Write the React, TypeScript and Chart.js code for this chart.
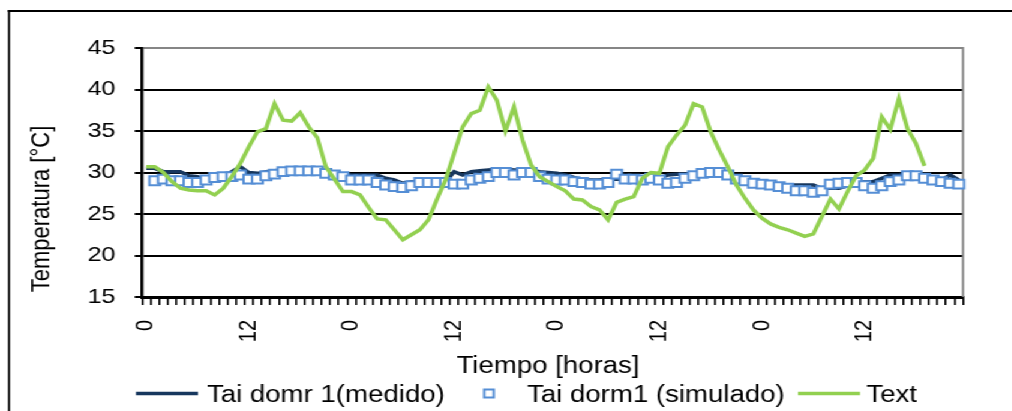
import React, { useEffect, useRef } from 'react';
import { Chart, registerables } from 'chart.js';

Chart.register(...registerables);

// Hours of the day, repeated for the four days of the record
const dayHours = [
  '0', '1', '2', '3', '4', '5', '6', '7', '8', '9', '10', '11',
  '12', '13', '14', '15', '16', '17', '18', '19', '20', '21', '22', '23',
];
const hours = [...dayHours, ...dayHours, ...dayHours, ...dayHours];
const shownHourLabels = ['0', '12'];

// Indoor air temperature, bedroom 1, measured [°C]
const taiMedido = [
  30.5, 30.5, 30.1, 30.1, 30.1, 29.6, 29.5, 29.1, 29.1, 29.6, 30.1, 30.7,
  30.0, 29.9, 30.1, 30.2, 30.3, 30.3, 30.3, 30.3, 30.3, 30.3, 30.0, 29.8,
  29.7, 29.7, 29.7, 29.7, 29.3, 29.1, 28.7, 28.9, 28.9, 28.9, 28.9, 28.9,
  30.1, 29.7, 30.1, 30.2, 30.3, 30.4, 30.4, 30.3, 30.3, 30.3, 30.1, 30.0,
  29.9, 29.7, 29.4, 29.1, 29.1, 29.1, 29.2, 29.2, 29.2, 29.3, 29.3, 29.3,
  29.3, 29.7, 29.8, 29.8, 29.9, 30.0, 30.2, 30.2, 29.8, 29.5, 29.2, 28.9,
  28.8, 28.7, 28.6, 28.5, 28.5, 28.5, 28.5, 28.1, 28.1, 28.1, 28.4, 28.8,
  28.9, 28.9, 29.3, 29.7, 29.7, 29.8, 29.7, 29.1, 29.1, 29.1, 29.7, 29.1,
];

// Indoor air temperature, bedroom 1, simulated [°C]
const taiSimulado = [
  null, 29.0, 29.2, 29.0, 29.0, 28.8, 28.8, 29.1, 29.4, 29.5, 29.5, 29.7,
  29.2, 29.2, 29.6, 29.8, 30.1, 30.2, 30.2, 30.2, 30.2, 29.9, 29.7, 29.5,
  29.1, 29.1, 29.1, 28.8, 28.5, 28.3, 28.2, 28.4, 28.8, 28.8, 28.8, 28.8,
  28.6, 28.6, 29.1, 29.3, 29.5, 30.0, 30.0, 29.7, 30.0, 30.0, 29.5, 29.2,
  29.1, 29.1, 28.9, 28.8, 28.6, 28.6, 28.8, 29.8, 29.2, 29.2, 29.1, 29.3,
  29.1, 28.7, 28.8, 29.3, 29.6, 29.9, 30.0, 30.0, 29.7, 29.2, 29.0, 28.7,
  28.6, 28.5, 28.3, 28.1, 27.8, 27.8, 27.6, 27.8, 28.6, 28.7, 28.8, 28.8,
  28.4, 28.1, 28.4, 28.9, 29.1, 29.6, 29.6, 29.3, 29.1, 28.9, 28.7, 28.6,
];

// Outdoor air temperature [°C]
const tExterior = [
  30.7, 30.7, 30.0, 28.9, 28.1, 27.9, 27.8, 27.8, 27.3, 28.1, 29.5, 31.1,
  33.1, 34.9, 35.3, 38.3, 36.3, 36.2, 37.2, 35.5, 34.2, 30.7, 29.2, 27.7,
  27.7, 27.3, 25.8, 24.4, 24.3, 23.1, 21.9, 22.5, 23.1, 24.3, 26.8, 29.1,
  32.3, 35.5, 37.1, 37.5, 40.3, 38.7, 35.0, 37.9, 33.9, 30.9, 29.5, 28.9,
  28.3, 27.8, 26.8, 26.7, 25.9, 25.5, 24.3, 26.4, 26.8, 27.1, 29.3, 30.0,
  29.9, 33.1, 34.5, 35.7, 38.3, 37.9, 34.9, 32.7, 30.7, 28.5, 26.9, 25.5,
  24.5, 23.8, 23.4, 23.1, 22.7, 22.3, 22.6, 24.7, 26.8, 25.6, 27.7, 29.6,
  30.3, 31.7, 36.7, 35.2, 38.9, 35.3, 33.5, 30.8, null, null, null, null,
];

const seriesNames = ['Tai domr 1(medido)', 'Tai dorm1 (simulado)', 'Text'];
const yTitle = 'Temperatura [°C]';
const xTitle = 'Tiempo [horas]';

const NAVY = '#17375E';
const BLUE = '#558ED5';
const GREEN = '#92D050';
const GREY = '#868686';
const FONT = '"Liberation Sans", Arial, sans-serif';

// The chart is laid out on a narrower canvas and widened with a CSS scaleX
const SX = 1.2;
const W = 844;
const H = 411;

const decorations = {
  id: 'decorations',
  beforeDraw(chart: any) {
    const { ctx } = chart;
    ctx.save();
    ctx.fillStyle = '#fff';
    ctx.fillRect(0, 0, chart.width, chart.height);
    ctx.strokeStyle = '#000';
    // outer frame (left and top edges)
    ctx.lineWidth = 2 / SX;
    ctx.beginPath();
    ctx.moveTo(7.5, chart.height + 5);
    ctx.lineTo(7.5, 10);
    ctx.stroke();
    ctx.lineWidth = 2;
    ctx.beginPath();
    ctx.moveTo(6.5, 11);
    ctx.lineTo(chart.width + 5, 11);
    ctx.stroke();
    ctx.restore();
  },
  beforeDatasetsDraw(chart: any) {
    const { ctx, chartArea } = chart;
    ctx.save();
    ctx.strokeStyle = GREY;
    ctx.lineWidth = 2.2 / SX;
    ctx.beginPath();
    ctx.moveTo(chartArea.right, chartArea.top - 1);
    ctx.lineTo(chartArea.right, chartArea.bottom);
    ctx.stroke();
    ctx.restore();
  },
  afterDraw(chart: any) {
    const { ctx } = chart;
    ctx.save();
    ctx.fillStyle = '#000';

    // y axis title
    ctx.font = `22px ${FONT}`;
    ctx.textAlign = 'center';
    ctx.textBaseline = 'middle';
    ctx.save();
    ctx.translate(35, 209);
    ctx.rotate(-Math.PI / 2);
    ctx.fillText(yTitle, 0, 0);
    ctx.restore();

    // x axis title
    ctx.font = `23px ${FONT}`;
    ctx.textBaseline = 'alphabetic';
    ctx.fillText(xTitle, 456.7, 373);

    // legend
    const ly = 393.5;
    ctx.lineCap = 'butt';
    ctx.strokeStyle = NAVY;
    ctx.lineWidth = 3.5;
    ctx.beginPath();
    ctx.moveTo(113.3, ly);
    ctx.lineTo(165, ly);
    ctx.stroke();

    ctx.strokeStyle = BLUE;
    ctx.lineWidth = 2;
    ctx.fillStyle = '#fff';
    ctx.beginPath();
    ctx.rect(407.5 - 4, ly - 4, 8, 8);
    ctx.fill();
    ctx.stroke();

    ctx.strokeStyle = GREEN;
    ctx.lineWidth = 3.5;
    ctx.beginPath();
    ctx.moveTo(665, ly);
    ctx.lineTo(716.7, ly);
    ctx.stroke();

    ctx.fillStyle = '#000';
    ctx.font = `23px ${FONT}`;
    ctx.textAlign = 'left';
    ctx.fillText(seriesNames[0], 172.5, 401.5);
    ctx.fillText(seriesNames[1], 439.2, 401.5);
    ctx.fillText(seriesNames[2], 722, 401.5);
    ctx.restore();
  },
};

export default function App() {
  const canvasRef = useRef<HTMLCanvasElement | null>(null);

  useEffect(() => {
    const canvas = canvasRef.current;
    if (!canvas) return;
    const chart = new Chart(canvas, {
      type: 'line',
      data: {
        labels: hours,
        datasets: [
          {
            label: seriesNames[2],
            data: tExterior,
            borderColor: GREEN,
            backgroundColor: GREEN,
            borderWidth: 3.5,
            pointRadius: 0,
            tension: 0,
            spanGaps: false,
            order: 0,
          },
          {
            label: seriesNames[1],
            data: taiSimulado,
            showLine: false,
            pointStyle: 'rect',
            pointRadius: 6.3,
            pointBorderWidth: 2,
            pointBorderColor: BLUE,
            pointBackgroundColor: '#fff',
            borderColor: BLUE,
            backgroundColor: '#fff',
            order: 1,
          },
          {
            label: seriesNames[0],
            data: taiMedido,
            borderColor: NAVY,
            backgroundColor: NAVY,
            borderWidth: 3.5,
            pointRadius: 0,
            tension: 0,
            order: 2,
          },
        ],
      },
      options: {
        responsive: false,
        animation: false,
        events: [],
        layout: { padding: { left: 0, top: 48, right: 41.5, bottom: 64 } },
        plugins: {
          legend: { display: false },
          tooltip: { enabled: false },
          title: { display: false },
        },
        scales: {
          x: {
            type: 'category',
            offset: true,
            grid: {
              offset: true,
              drawOnChartArea: false,
              drawTicks: true,
              tickLength: 8,
              color: '#000',
              lineWidth: 1.6,
            },
            border: { display: true, color: '#000', width: 3 },
            ticks: {
              autoSkip: false,
              minRotation: 90,
              maxRotation: 90,
              padding: 15,
              color: '#000',
              font: { family: FONT, size: 20 },
              callback: (_v: any, i: number) =>
                shownHourLabels.includes(hours[i]) ? hours[i] : '',
            },
            afterFit: (s: any) => {
              s.height = 50;
            },
          },
          y: {
            min: 15,
            max: 45,
            ticks: {
              stepSize: 5,
              padding: 16,
              color: '#000',
              font: { family: FONT, size: 21 },
            },
            grid: {
              color: (c: any) => (c.tick && c.tick.value === 45 ? GREY : '#000'),
              tickColor: '#000',
              lineWidth: 2,
              tickLength: 6,
            },
            border: { display: true, color: '#000', width: 2.5 },
            afterFit: (s: any) => {
              s.width = 118.3;
            },
          },
        },
      },
      plugins: [decorations],
    });
    return () => chart.destroy();
  }, []);

  return (
    <div
      style={{
        position: 'fixed',
        left: 0,
        top: 0,
        width: W,
        height: H,
        transform: `scaleX(${SX})`,
        transformOrigin: '0 0',
        background: '#fff',
      }}
    >
      <canvas ref={canvasRef} width={W} height={H} style={{ display: 'block' }} />
    </div>
  );
}
